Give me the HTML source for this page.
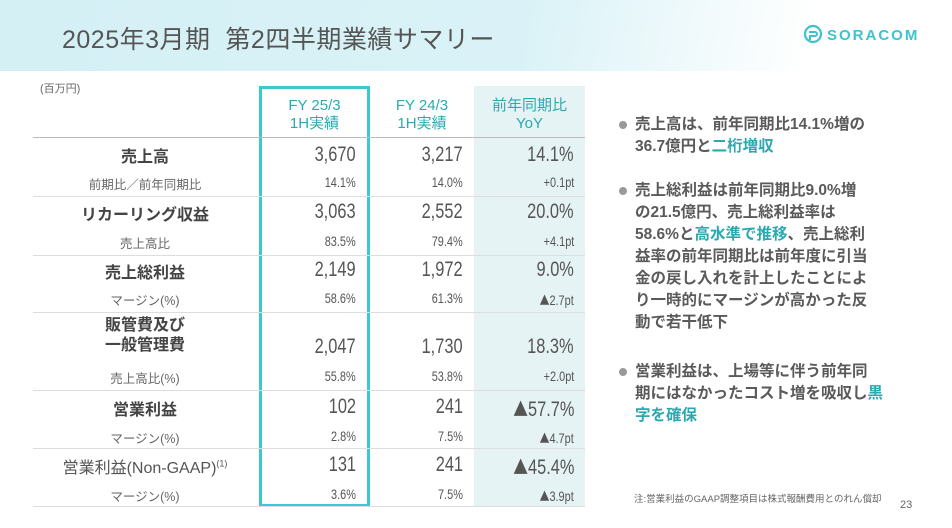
<!DOCTYPE html><html><head><meta charset="utf-8"><style>
*{margin:0;padding:0;box-sizing:border-box}
body{width:952px;height:528px;position:relative;overflow:hidden;background:#fff;font-family:"Liberation Sans","Noto Sans CJK JP",sans-serif;color:#555}
.hdr{position:absolute;left:0;top:0;width:952px;height:71px;background:linear-gradient(100deg,#d4f0f5 0%,#daf2f7 55%,#fff 85%)}
.t{position:absolute;white-space:nowrap}
.n{position:absolute;white-space:nowrap;text-align:right;transform:scaleX(.78);transform-origin:right center;font-family:"Liberation Sans Narrow","Liberation Sans","Noto Sans CJK JP",sans-serif;color:#555}
.tri{font-family:"Noto Sans CJK JP",sans-serif;font-size:0.9em}
.big{font-size:21px}
.sm{font-size:14px}
.lb{position:absolute;width:230px;left:30px;text-align:center;white-space:nowrap}
.lbb{font-size:16px;font-weight:bold;color:#444}
.lbs{font-size:12.5px;color:#666}
.hl{position:absolute;left:33px;width:552px;height:1px;background:#ddd}
.bt{position:absolute;left:635px;font-size:15.5px;line-height:22px;color:#5a5a5a;font-weight:bold;white-space:nowrap}
.dot{position:absolute;left:619px;width:8px;height:8px;border-radius:50%;background:#999}
.c{color:#2aa9b0}
</style></head><body>
<div class="hdr"></div>
<div class="t" style="left:62px;top:20px;font-size:25px;color:#555;letter-spacing:0.5px">2025年3月期&nbsp; 第2四半期業績サマリー</div>
<div class="t" style="left:803px;top:24px;font-size:15px;color:#3cc3cc;letter-spacing:2px;font-weight:bold">
<svg width="20" height="20" viewBox="0 0 20 20" style="vertical-align:-4px;margin-right:4px"><circle cx="10" cy="10" r="8" fill="none" stroke="#3cc3cc" stroke-width="2.2"/><path d="M6 8h6a2 2 0 0 1 0 4H7v4" fill="none" stroke="#3cc3cc" stroke-width="2"/></svg>SORACOM</div>
<div class="t" style="left:40px;top:80px;font-size:11px;color:#666">(百万円)</div>
<div style="position:absolute;left:474px;top:86px;width:111px;height:420px;background:#e6f3f5"></div>
<div style="position:absolute;left:259px;top:86px;width:111px;height:421px;border:3px solid #3cc8d0"></div>
<div class="t c" style="left:259px;width:111px;text-align:center;top:97px;font-size:15px;line-height:18px">FY 25/3<br>1H実績</div>
<div class="t c" style="left:370px;width:104px;text-align:center;top:97px;font-size:15px;line-height:18px">FY 24/3<br>1H実績</div>
<div class="t c" style="left:474px;width:111px;text-align:center;top:97px;font-size:15px;line-height:18px">前年同期比<br>YoY</div>
<div class="hl" style="top:137px;background:#bbb"></div>
<div class="hl" style="top:196px"></div>
<div class="hl" style="top:255px"></div>
<div class="hl" style="top:312px"></div>
<div class="hl" style="top:390px"></div>
<div class="hl" style="top:448px"></div>
<div class="hl" style="top:506px"></div>

<div class="lb lbb" style="top:143px">売上高</div>
<div class="lb lbs" style="top:174px">前期比／前年同期比</div>
<div class="lb lbb" style="top:201px">リカーリング収益</div>
<div class="lb lbs" style="top:233px">売上高比</div>
<div class="lb lbb" style="top:259px">売上総利益</div>
<div class="lb lbs" style="top:290px">マージン(%)</div>
<div class="lb lbb" style="top:316px;line-height:20px">販管費及び<br>一般管理費</div>
<div class="lb lbs" style="top:368px">売上高比(%)</div>
<div class="lb lbb" style="top:396px">営業利益</div>
<div class="lb lbs" style="top:428px">マージン(%)</div>
<div class="lb lbb" style="top:454px;font-weight:normal;color:#555">営業利益(Non-GAAP)<sup style="font-size:9px">(1)</sup></div>
<div class="lb lbs" style="top:486px">マージン(%)</div>

<div class="n big" style="right:596px;top:143px">3,670</div><div class="n big" style="right:489px;top:143px">3,217</div><div class="n big" style="right:378px;top:143px">14.1%</div>
<div class="n sm" style="right:596px;top:174px">14.1%</div><div class="n sm" style="right:489px;top:174px">14.0%</div><div class="n sm" style="right:378px;top:174px">+0.1pt</div>
<div class="n big" style="right:596px;top:200px">3,063</div><div class="n big" style="right:489px;top:200px">2,552</div><div class="n big" style="right:378px;top:200px">20.0%</div>
<div class="n sm" style="right:596px;top:233px">83.5%</div><div class="n sm" style="right:489px;top:233px">79.4%</div><div class="n sm" style="right:378px;top:233px">+4.1pt</div>
<div class="n big" style="right:596px;top:258px">2,149</div><div class="n big" style="right:489px;top:258px">1,972</div><div class="n big" style="right:378px;top:258px">9.0%</div>
<div class="n sm" style="right:596px;top:290px">58.6%</div><div class="n sm" style="right:489px;top:290px">61.3%</div><div class="n sm" style="right:378px;top:290px"><span class="tri">▲</span>2.7pt</div>
<div class="n big" style="right:596px;top:335px">2,047</div><div class="n big" style="right:489px;top:335px">1,730</div><div class="n big" style="right:378px;top:335px">18.3%</div>
<div class="n sm" style="right:596px;top:368px">55.8%</div><div class="n sm" style="right:489px;top:368px">53.8%</div><div class="n sm" style="right:378px;top:368px">+2.0pt</div>
<div class="n big" style="right:596px;top:395px">102</div><div class="n big" style="right:489px;top:395px">241</div><div class="n big" style="right:378px;top:395px"><span class="tri">▲</span>57.7%</div>
<div class="n sm" style="right:596px;top:428px">2.8%</div><div class="n sm" style="right:489px;top:428px">7.5%</div><div class="n sm" style="right:378px;top:428px"><span class="tri">▲</span>4.7pt</div>
<div class="n big" style="right:596px;top:453px">131</div><div class="n big" style="right:489px;top:453px">241</div><div class="n big" style="right:378px;top:453px"><span class="tri">▲</span>45.4%</div>
<div class="n sm" style="right:596px;top:486px">3.6%</div><div class="n sm" style="right:489px;top:486px">7.5%</div><div class="n sm" style="right:378px;top:486px"><span class="tri">▲</span>3.9pt</div>

<div class="dot" style="top:121px"></div>
<div class="bt" style="top:114px">売上高は、前年同期比14.1%増の<br>36.7億円と<span class="c">二桁増収</span></div>
<div class="dot" style="top:187px"></div>
<div class="bt" style="top:180px">売上総利益は前年同期比9.0%増<br>の21.5億円、売上総利益率は<br>58.6%と<span class="c">高水準で推移</span>、売上総利<br>益率の前年同期比は前年度に引当<br>金の戻し入れを計上したことによ<br>り一時的にマージンが高かった反<br>動で若干低下</div>
<div class="dot" style="top:368px"></div>
<div class="bt" style="top:361px">営業利益は、上場等に伴う前年同<br>期にはなかったコスト増を吸収し<span class="c">黒</span><br><span class="c">字を確保</span></div>
<div class="t" style="left:634px;top:491px;font-size:9.5px;color:#666">注:営業利益のGAAP調整項目は株式報酬費用とのれん償却</div>
<div class="t" style="left:900px;top:499px;font-size:11px;color:#666">23</div>
</body></html>
